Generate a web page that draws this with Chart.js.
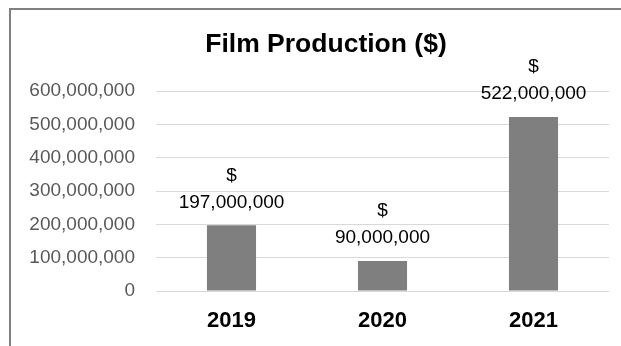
<!DOCTYPE html>
<html lang="en">
<head>
<meta charset="UTF-8">
<title>Film Production ($)</title>
<script src="https://cdn.jsdelivr.net/npm/chart.js@4"></script>
<style>
    html, body { margin: 0; padding: 0; background: #ffffff; overflow: hidden; }
    #wrap { position: relative; width: 621px; height: 346px; }
    #marco {
        position: absolute; left: 9px; top: 8px; width: 700px; height: 400px;
        border-left: 2px solid #808080; border-top: 2px solid #808080;
        pointer-events: none;
    }
</style>
</head>
<body>
<div id="wrap">
    <canvas id="grafico" width="621" height="346"></canvas>
    <div id="marco"></div>
</div>
<script>
const titulo = "Film Production ($)";
const categorias = ["2019", "2020", "2021"];
const valores = [197000000, 90000000, 522000000];
const ticksY = [0, 100000000, 200000000, 300000000, 400000000, 500000000, 600000000];

const fuente = "'Liberation Sans', Arial, sans-serif";
const formato = v => v.toLocaleString("en-US");

// titulo dibujado a mano: el de Chart.js se centra en todo el ancho
const tituloGrafico = {
    id: "tituloGrafico",
    afterDraw(chart) {
        const ctx = chart.ctx;
        ctx.save();
        ctx.fillStyle = "#000000";
        ctx.font = "bold 26.5px " + fuente;
        ctx.textAlign = "center";
        ctx.textBaseline = "middle";
        ctx.fillText(titulo, 326, 45);
        ctx.restore();
    }
};

// etiquetas de datos: "$" arriba y el valor debajo
const etiquetasDatos = {
    id: "etiquetasDatos",
    afterDatasetsDraw(chart) {
        const ctx = chart.ctx;
        const meta = chart.getDatasetMeta(0);
        ctx.save();
        ctx.fillStyle = "#000000";
        ctx.font = "19px " + fuente;
        ctx.textAlign = "center";
        ctx.textBaseline = "middle";
        meta.data.forEach((barra, i) => {
            const v = chart.data.datasets[0].data[i];
            ctx.fillText(formato(v), barra.x, barra.y - 23);
            ctx.fillText("$", barra.x, barra.y - 50);
        });
        ctx.restore();
    }
};

new Chart(document.getElementById("grafico").getContext("2d"), {
    type: "bar",
    data: {
        labels: categorias,
        datasets: [{
            label: titulo,
            data: valores,
            backgroundColor: "#7f7f7f",
            borderWidth: 0,
            barPercentage: 0.65,
            categoryPercentage: 0.5
        }]
    },
    options: {
        responsive: false,
        animation: false,
        layout: { padding: { left: 10, right: 12, top: 91, bottom: 0 } },
        plugins: {
            legend: { display: false },
            tooltip: { enabled: false },
            title: { display: false }
        },
        scales: {
            x: {
                afterFit: escala => { escala.height = 55; },
                grid: { display: false, drawTicks: false },
                border: { display: false },
                ticks: {
                    color: "#000000",
                    padding: 17,
                    font: { family: fuente, size: 22, weight: "bold" }
                }
            },
            y: {
                min: 0,
                max: 600000000,
                afterBuildTicks: escala => { escala.ticks = ticksY.map(v => ({ value: v })); },
                afterFit: escala => { escala.width = 146; },
                grid: { color: "#d9d9d9", lineWidth: 1, drawTicks: false },
                border: { display: false },
                ticks: {
                    color: "#595959",
                    padding: 21,
                    font: { family: fuente, size: 19 },
                    callback: v => formato(v)
                }
            }
        }
    },
    plugins: [etiquetasDatos, tituloGrafico]
});
</script>
</body>
</html>
